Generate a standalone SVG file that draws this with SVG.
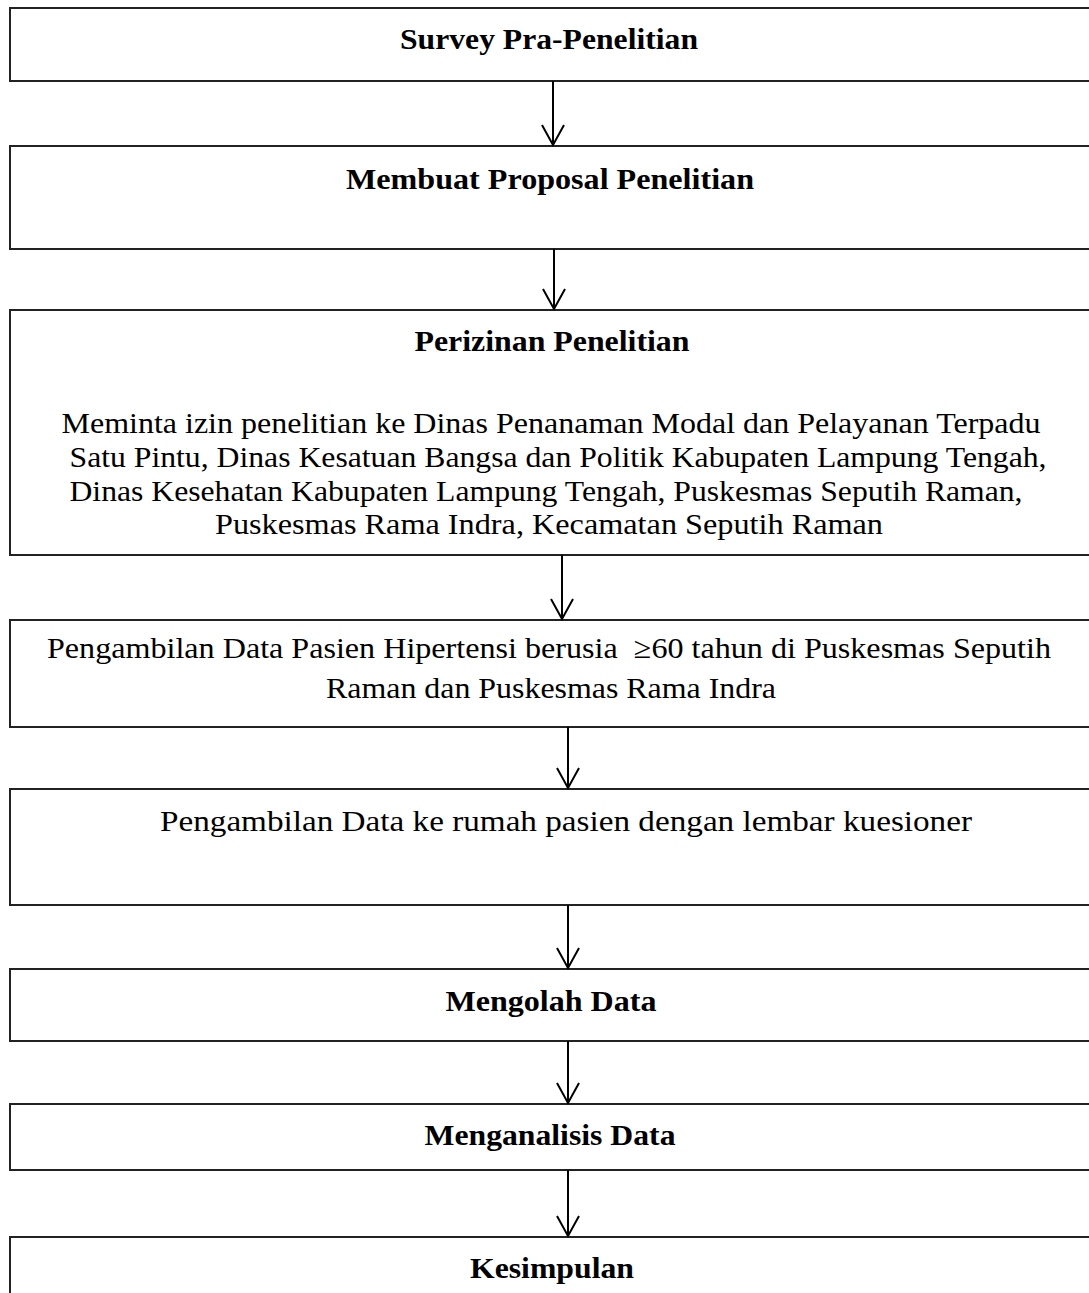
<svg xmlns="http://www.w3.org/2000/svg" width="1089" height="1293" viewBox="0 0 1089 1293">
<style>
.box{fill:#fff;stroke:#222;stroke-width:2}
.t{font-family:"Liberation Serif","Times New Roman",serif;font-size:30px;fill:#000;text-anchor:middle}
.b{font-weight:bold}
.conn line,.conn path{stroke:#000;stroke-width:2;fill:none}
</style>
<rect width="1089" height="1293" fill="#fff"/>
<g id="n1"><rect class="box" x="10" y="8" width="1090" height="73"/><text class="t b" x="549" y="49" textLength="298" lengthAdjust="spacingAndGlyphs">Survey Pra-Penelitian</text></g>
<g id="n2"><rect class="box" x="10" y="146" width="1090" height="103"/><text class="t b" x="550" y="189" textLength="408" lengthAdjust="spacingAndGlyphs">Membuat Proposal Penelitian</text></g>
<g id="n3"><rect class="box" x="10" y="310" width="1090" height="245"/>
<text class="t b" x="552" y="351" textLength="275" lengthAdjust="spacingAndGlyphs">Perizinan Penelitian</text>
<text class="t" x="551" y="433" textLength="979" lengthAdjust="spacingAndGlyphs">Meminta izin penelitian ke Dinas Penanaman Modal dan Pelayanan Terpadu</text>
<text class="t" x="558" y="467" textLength="977" lengthAdjust="spacingAndGlyphs">Satu Pintu, Dinas Kesatuan Bangsa dan Politik Kabupaten Lampung Tengah,</text>
<text class="t" x="546" y="501" textLength="953" lengthAdjust="spacingAndGlyphs">Dinas Kesehatan Kabupaten Lampung Tengah, Puskesmas Seputih Raman,</text>
<text class="t" x="549" y="534" textLength="668" lengthAdjust="spacingAndGlyphs">Puskesmas Rama Indra, Kecamatan Seputih Raman</text>
</g>
<g id="n4"><rect class="box" x="10" y="620" width="1090" height="107"/>
<text class="t" x="549" y="658" textLength="1004" lengthAdjust="spacingAndGlyphs">Pengambilan Data Pasien Hipertensi berusia &#160;≥60 tahun di Puskesmas Seputih</text>
<text class="t" x="551" y="698" textLength="450" lengthAdjust="spacingAndGlyphs">Raman dan Puskesmas Rama Indra</text>
</g>
<g id="n5"><rect class="box" x="10" y="789" width="1090" height="116"/>
<text class="t" x="566" y="831" textLength="812" lengthAdjust="spacingAndGlyphs">Pengambilan Data ke rumah pasien dengan lembar kuesioner</text>
</g>
<g id="n6"><rect class="box" x="10" y="969" width="1090" height="72"/><text class="t b" x="551" y="1011" textLength="211" lengthAdjust="spacingAndGlyphs">Mengolah Data</text></g>
<g id="n7"><rect class="box" x="10" y="1104" width="1090" height="66"/><text class="t b" x="550" y="1145" textLength="251" lengthAdjust="spacingAndGlyphs">Menganalisis Data</text></g>
<g id="n8"><rect class="box" x="10" y="1237" width="1090" height="80"/><text class="t b" x="552" y="1278" textLength="164" lengthAdjust="spacingAndGlyphs">Kesimpulan</text></g>
<g class="conn">
<line x1="553" y1="81" x2="553" y2="145"/><path d="M542 125 L553 145 L564 125"/>
<line x1="554" y1="249" x2="554" y2="309"/><path d="M543 289 L554 309 L565 289"/>
<line x1="562" y1="555" x2="562" y2="619"/><path d="M551 599 L562 619 L573 599"/>
<line x1="568" y1="727" x2="568" y2="788"/><path d="M557 768 L568 788 L579 768"/>
<line x1="568" y1="905" x2="568" y2="968"/><path d="M557 948 L568 968 L579 948"/>
<line x1="568" y1="1041" x2="568" y2="1103"/><path d="M557 1083 L568 1103 L579 1083"/>
<line x1="568" y1="1170" x2="568" y2="1236"/><path d="M557 1216 L568 1236 L579 1216"/>
</g>
</svg>
